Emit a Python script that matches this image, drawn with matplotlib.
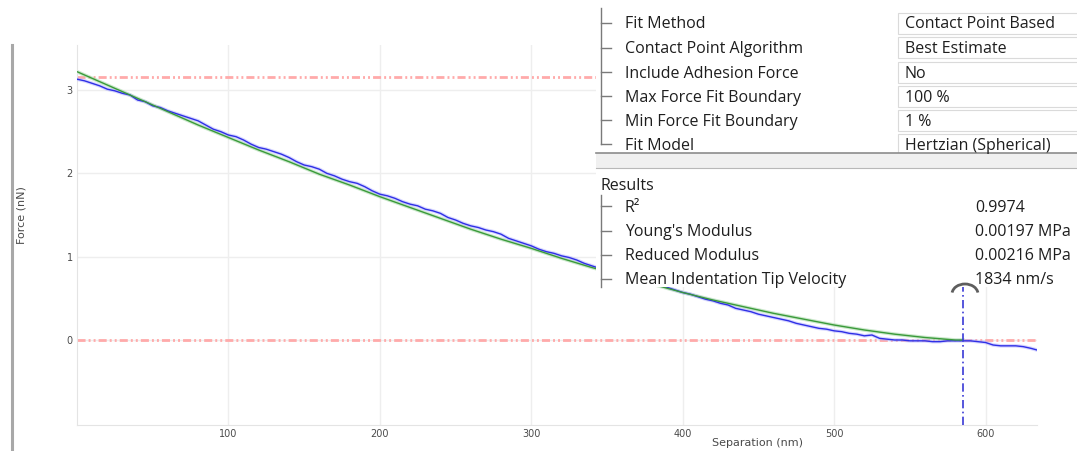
import matplotlib
matplotlib.use("Agg")
import matplotlib.pyplot as plt
from matplotlib.lines import Line2D
from matplotlib.patches import Rectangle, Arc

# measured force curve (separation in nm, force in nN)
sep = [0, 5, 10, 15, 20, 25, 30, 35, 40, 45, 50, 55, 60, 65, 70, 75, 80, 85, 90, 95,
       100, 105, 110, 115, 120, 125, 130, 135, 140, 145, 150, 155, 160, 165, 170, 175,
       180, 185, 190, 195, 200, 205, 210, 215, 220, 225, 230, 235, 240, 245, 250, 255,
       260, 265, 270, 275, 280, 285, 290, 295, 300, 305, 310, 315, 320, 325, 330, 335,
       340, 345, 350, 355, 360, 365, 370, 375, 380, 385, 390, 395, 400, 405, 410, 415,
       420, 425, 430, 435, 440, 445, 450, 455, 460, 465, 470, 475, 480, 485, 490, 495,
       500, 505, 510, 515, 520, 525, 530, 535, 540, 545, 550, 555, 560, 565, 570, 575,
       580, 585, 590, 595, 600, 605, 610, 615, 620, 625, 630, 634]
force = [3.13, 3.11, 3.08, 3.05, 3.01, 2.99, 2.96, 2.94, 2.88, 2.86, 2.81, 2.79, 2.75, 2.72,
         2.69, 2.66, 2.63, 2.58, 2.53, 2.50, 2.46, 2.44, 2.40, 2.35, 2.31, 2.29, 2.26, 2.23,
         2.19, 2.14, 2.10, 2.08, 2.05, 2.00, 1.97, 1.93, 1.90, 1.88, 1.84, 1.79, 1.75, 1.73,
         1.70, 1.66, 1.63, 1.61, 1.57, 1.55, 1.52, 1.47, 1.44, 1.40, 1.37, 1.35, 1.32, 1.30,
         1.27, 1.22, 1.19, 1.16, 1.13, 1.09, 1.06, 1.04, 1.01, 0.99, 0.96, 0.92, 0.89, 0.86,
         0.84, 0.80, 0.78, 0.75, 0.73, 0.70, 0.68, 0.66, 0.63, 0.60, 0.57, 0.55, 0.52, 0.49,
         0.47, 0.44, 0.42, 0.38, 0.36, 0.34, 0.31, 0.29, 0.27, 0.25, 0.23, 0.20, 0.18, 0.16,
         0.14, 0.13, 0.11, 0.10, 0.08, 0.07, 0.05, 0.06, 0.02, 0.01, 0.00, 0.00, -0.01, -0.01,
         -0.01, -0.02, -0.02, -0.01, -0.01, -0.01, -0.01, -0.02, -0.03, -0.06, -0.07, -0.07,
         -0.07, -0.08, -0.10, -0.12]

# hertzian fit curve
fit_sep = [0, 20, 40, 60, 80, 100, 120, 140, 160, 180, 200, 220, 240, 260, 280, 300,
           320, 340, 360, 380, 400, 420, 440, 460, 480, 500, 520, 540, 560, 580, 585]
fit_force = [3.22, 3.06, 2.90, 2.74, 2.58, 2.43, 2.28, 2.14, 1.99, 1.86, 1.72, 1.59,
             1.46, 1.33, 1.21, 1.10, 0.98, 0.87, 0.77, 0.67, 0.57, 0.48, 0.40, 0.32,
             0.25, 0.18, 0.12, 0.07, 0.03, 0.00, 0.00]

max_force_line = 3.16
min_force_line = 0.0
contact_point = 585

x_ticks = [100, 200, 300, 400, 500, 600]
y_ticks = [0, 1, 2, 3]

settings = ["Fit Method", "Contact Point Algorithm", "Include Adhesion Force",
            "Max Force Fit Boundary", "Min Force Fit Boundary", "Fit Model"]
setting_values = ["Contact Point Based", "Best Estimate", "No", "100 %", "1 %",
                  "Hertzian (Spherical)"]
results = ["R\u00b2", "Young's Modulus", "Reduced Modulus", "Mean Indentation Tip Velocity"]
result_values = ["0.9974", "0.00197 MPa", "0.00216 MPa", "1834 nm/s"]

W, H = 1077, 451


def fx(px):
    return px / W


def fy(py):
    return 1 - py / H


fig = plt.figure(figsize=(W / 100, H / 100), dpi=100)
ax = fig.add_axes([fx(77), fy(425), (1037 - 77) / W, (425 - 45) / H])

ax.plot(fit_sep, fit_force, color="#a9d9a9", lw=2.6, alpha=0.6, zorder=2)
ax.plot(sep, force, color="#b0b0ff", lw=2.6, alpha=0.5, zorder=3)
ax.plot(sep, force, color="#2f2fe6", lw=1.0, zorder=4)
ax.plot(fit_sep, fit_force, color="#3a9a3a", lw=1.0, zorder=5)

red_style = (0, (2.9, 1.1, 0.7, 1.1, 0.7, 1.1))
ax.axhline(max_force_line, color="#ffaaaa", lw=2, linestyle=red_style, zorder=1)
ax.axhline(min_force_line, color="#ffaaaa", lw=2, linestyle=red_style, zorder=1)
ax.axvline(contact_point, color="#3a3ad6", lw=1.2, linestyle=(0, (5, 2, 1, 2)), zorder=6)

ax.set_xlim(0, 634)
ax.set_ylim(-1.02, 3.54)
ax.set_xticks(x_ticks)
ax.set_yticks(y_ticks)
ax.grid(True, color="#eeeeee", lw=1)
ax.set_axisbelow(True)
for side in ["top", "right"]:
    ax.spines[side].set_visible(False)
for side in ["left", "bottom"]:
    ax.spines[side].set_color("#e4e4e4")
ax.tick_params(length=0, labelsize=7, labelcolor="#4a4a4a", pad=3)
for lab in ax.get_xticklabels() + ax.get_yticklabels():
    lab.set_family("DejaVu Sans")

ax.set_xlabel("Separation (nm)", fontsize=8, color="#4a4a4a", family="DejaVu Sans")
ax.xaxis.set_label_coords((758 - 77) / 960, -0.035)
ax.set_ylabel("Force (nN)", fontsize=8, color="#4a4a4a", family="DejaVu Sans")
ax.yaxis.set_label_coords((26 - 77) / 960, 0.553)

# window border on the left
fig.add_artist(Line2D([fx(12), fx(12)], [fy(45), fy(451)], transform=fig.transFigure,
                      color="#a8a8a8", lw=2.2))


def fig_line(x0, y0, x1, y1, color="#7a7a7a", lw=1.0, z=11):
    fig.add_artist(Line2D([fx(x0), fx(x1)], [fy(y0), fy(y1)], transform=fig.transFigure,
                          color=color, lw=lw, zorder=z))


def panel_text(x, y, s):
    # y is the visual middle of the row; place the baseline below it
    fig.text(fx(x), fy(y + 5.5), s, fontsize=11.5, family="Open Sans", color="#1e1e1e",
             va="baseline", zorder=12)


# properties panel
fig.add_artist(Rectangle((fx(596), fy(287)), 1.0, 1.0, transform=fig.transFigure,
                         facecolor="white", edgecolor="none", zorder=10))

rows = [23, 47.5, 72, 96, 120, 144]
fig_line(601, 8, 601, rows[-1])
for y, name, val in zip(rows, settings, setting_values):
    fig_line(601, y, 611, y)
    fig.add_artist(Rectangle((fx(898), fy(y + 11)), 1.0, 21 / H, transform=fig.transFigure,
                             facecolor="white", edgecolor="#dadada", lw=0.8, zorder=11))
    panel_text(625, y, name)
    panel_text(905, y, val)

# separator bar
fig.add_artist(Rectangle((fx(596), fy(168)), 1.0, 15 / H, transform=fig.transFigure,
                         facecolor="#f0f0f0", edgecolor="none", zorder=11))
fig_line(596, 153, 1077, 153, color="#8c8c8c", lw=1.2)
fig_line(596, 168, 1077, 168, color="#b8b8b8", lw=0.8)

panel_text(600, 184, "Results")
res_rows = [206, 231, 255, 279]
fig_line(601, 195, 601, 287)
for y, name, val in zip(res_rows, results, result_values):
    fig_line(601, y, 611, y)
    panel_text(625, y, name)
    panel_text(975, y, val)

# drag handle on the contact point line
fig.add_artist(Arc((fx(965), fy(294)), 26 / W, 20 / H, theta1=15, theta2=165,
                   transform=fig.transFigure, color="#5e5e5e", lw=2, zorder=13))

fig.savefig("out.png", dpi=100)
